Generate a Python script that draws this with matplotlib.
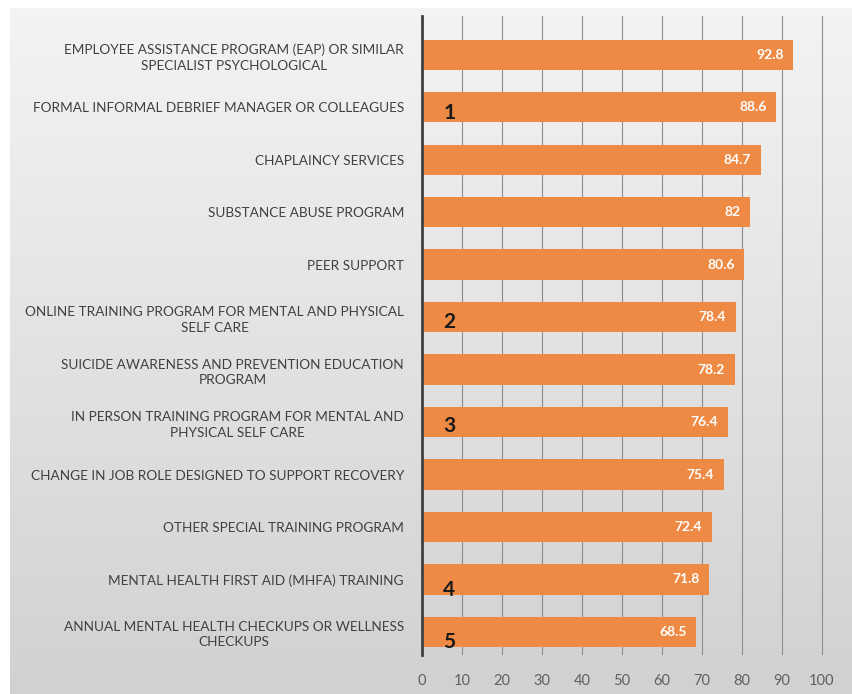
import matplotlib
matplotlib.use("Agg")
import matplotlib.pyplot as plt
import numpy as np

categories = [
    "EMPLOYEE ASSISTANCE PROGRAM (EAP) OR SIMILAR\nSPECIALIST PSYCHOLOGICAL",
    "FORMAL INFORMAL DEBRIEF MANAGER OR COLLEAGUES",
    "CHAPLAINCY SERVICES",
    "SUBSTANCE ABUSE PROGRAM",
    "PEER SUPPORT",
    "ONLINE TRAINING PROGRAM FOR MENTAL AND PHYSICAL\nSELF CARE",
    "SUICIDE AWARENESS AND PREVENTION EDUCATION\nPROGRAM",
    "IN PERSON TRAINING PROGRAM FOR MENTAL AND\nPHYSICAL SELF CARE",
    "CHANGE IN JOB ROLE DESIGNED TO SUPPORT RECOVERY",
    "OTHER SPECIAL TRAINING PROGRAM",
    "MENTAL HEALTH FIRST AID (MHFA) TRAINING",
    "ANNUAL MENTAL HEALTH CHECKUPS OR WELLNESS\nCHECKUPS",
]
values = [92.8, 88.6, 84.7, 82, 80.6, 78.4, 78.2, 76.4, 75.4, 72.4, 71.8, 68.5]
rank_marks = {1: "1", 5: "2", 7: "3", 10: "4", 11: "5"}
x_ticks = [0, 10, 20, 30, 40, 50, 60, 70, 80, 90, 100]

W, H = 852, 694
fig = plt.figure(figsize=(W / 100, H / 100), dpi=100)
fig.patch.set_facecolor("white")

# gradient background panel
bg = fig.add_axes([10 / W, 0, 1 - 10 / W, 1 - 8 / H])
grad = np.linspace(0.955, 0.82, 256).reshape(-1, 1)
bg.imshow(np.dstack([grad, grad, grad]), aspect="auto", extent=[0, 1, 0, 1], origin="upper")
bg.axis("off")

fontfam = ["Lato", "DejaVu Sans"]

ax_left, ax_right = 422, 838
ax_top, ax_bot = 16, 655
ax = fig.add_axes([ax_left / W, 1 - ax_bot / H, (ax_right - ax_left) / W, (ax_bot - ax_top) / H])
ax.patch.set_alpha(0)

y = np.arange(len(categories))
ax.barh(y, values, height=0.58, color="#EE8A44", zorder=3)
ax.set_xlim(0, 104)
ax.set_ylim(11.44, -0.74)

for xv in x_ticks[1:]:
    ax.axvline(xv, color="#8c8c8c", lw=0.8, zorder=1)

for spine in ["top", "right", "bottom"]:
    ax.spines[spine].set_visible(False)
ax.spines["left"].set_color("#404040")
ax.spines["left"].set_linewidth(2)
ax.spines["left"].set_zorder(4)

ax.set_xticks(x_ticks)
ax.set_xticklabels([str(t) for t in x_ticks], fontsize=10.5, color="#606060", family=fontfam)
ax.tick_params(axis="x", length=0, pad=14)
ax.set_yticks(y)
ax.set_yticklabels(categories, fontsize=9.8, color="#404040", family=fontfam, ha="right",
                   multialignment="center", linespacing=1.35)
ax.tick_params(axis="y", length=0, pad=13)

for yi, v in zip(y, values):
    ax.text(v - 2.4, yi, f"{v:g}", ha="right", va="center", color="white",
            fontsize=10, fontweight="bold", family=fontfam, zorder=5)

offsets = {1: 0.1, 5: 0.1, 7: 0.08, 10: 0.2, 11: 0.2}
for idx, lab in rank_marks.items():
    ax.text(6.8, idx + offsets[idx], lab, ha="center", va="center", color="#1a1a1a",
            fontsize=15, fontweight="bold", family=fontfam, zorder=5)

fig.savefig("out.png", dpi=100)
